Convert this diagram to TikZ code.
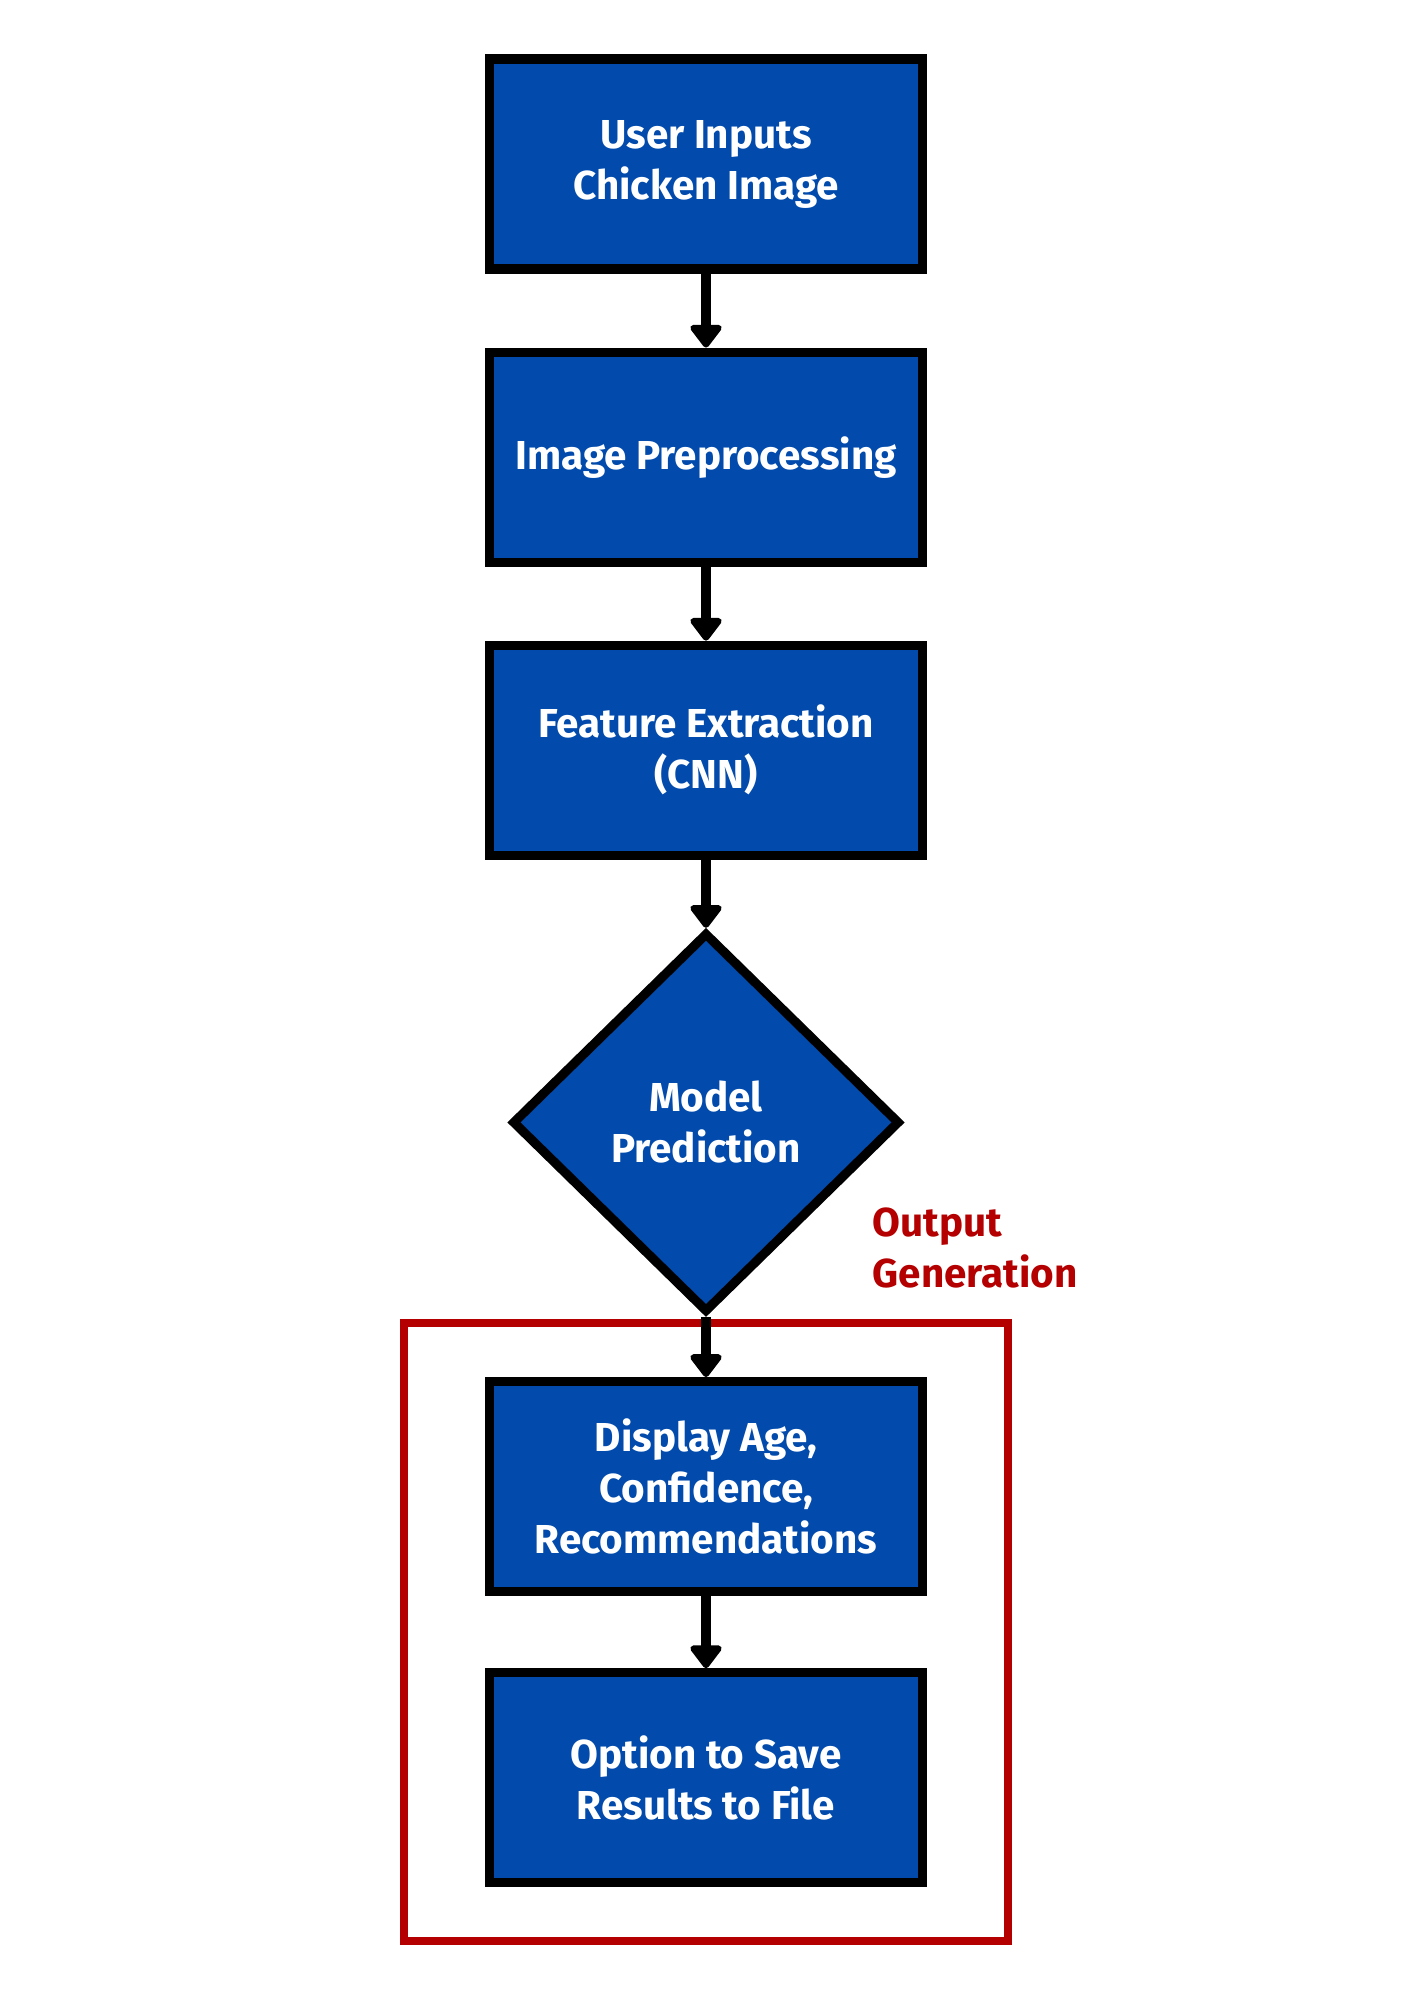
\documentclass[tikz,border=0pt]{standalone}
\usepackage{fontspec}
\setmainfont{Fira Sans}
\usepackage{xcolor}
\usetikzlibrary{positioning, arrows.meta, shapes.geometric, fit}
\definecolor{boxblue}{RGB}{2,75,172}
\definecolor{framered}{RGB}{180,0,0}

\begin{document}
\begin{tikzpicture}[
    node distance=0.74cm,
    every node/.style={align=center, font=\fontsize{11.5}{14.5}\selectfont\bfseries},
    stepbox/.style={rectangle, draw, line width=2.6pt, fill=boxblue, text=white, minimum width=4.33cm, minimum height=2.1cm},
    decide/.style={diamond, draw, line width=2.6pt, fill=boxblue, text=white, minimum width=3.88cm, minimum height=3.8cm, inner sep=0pt},
    flow/.style={line width=2.7pt, -{Triangle[width=0.36cm, length=0.25cm, round]}}
]
    \useasboundingbox (0,0) rectangle (14.14,-20);

    \node[stepbox] (input) at (7.06,-1.64) {User Inputs \\ Chicken Image};
    \node[stepbox, below=of input] (prep) {Image Preprocessing};
    \node[stepbox, below=of prep] (feat) {Feature Extraction \\ (CNN)};
    \node[decide, below=0.68cm of feat] (pred) {Model \\ Prediction};
    \node[stepbox, below=0.6cm of pred] (display) {Display Age, \\ Confidence, \\ Recommendations};
    \node[stepbox, below=0.72cm of display] (save) {Option to Save \\ Results to File};

    % output group
    \node[draw=framered, line width=2.2pt, fit=(display)(save), inner xsep=0.81cm, inner ysep=0.54cm] (outgen) {};
    \node[text=framered, align=left, anchor=north west, inner sep=0pt] (outlabel) at (8.72,-12.07) {Output \\ Generation};

    \draw[flow] (input) -- (prep);
    \draw[flow] (prep) -- (feat);
    \draw[flow] (feat) -- (pred);
    \draw[flow] (pred) -- (display);
    \draw[flow] (display) -- (save);
\end{tikzpicture}
\end{document}
